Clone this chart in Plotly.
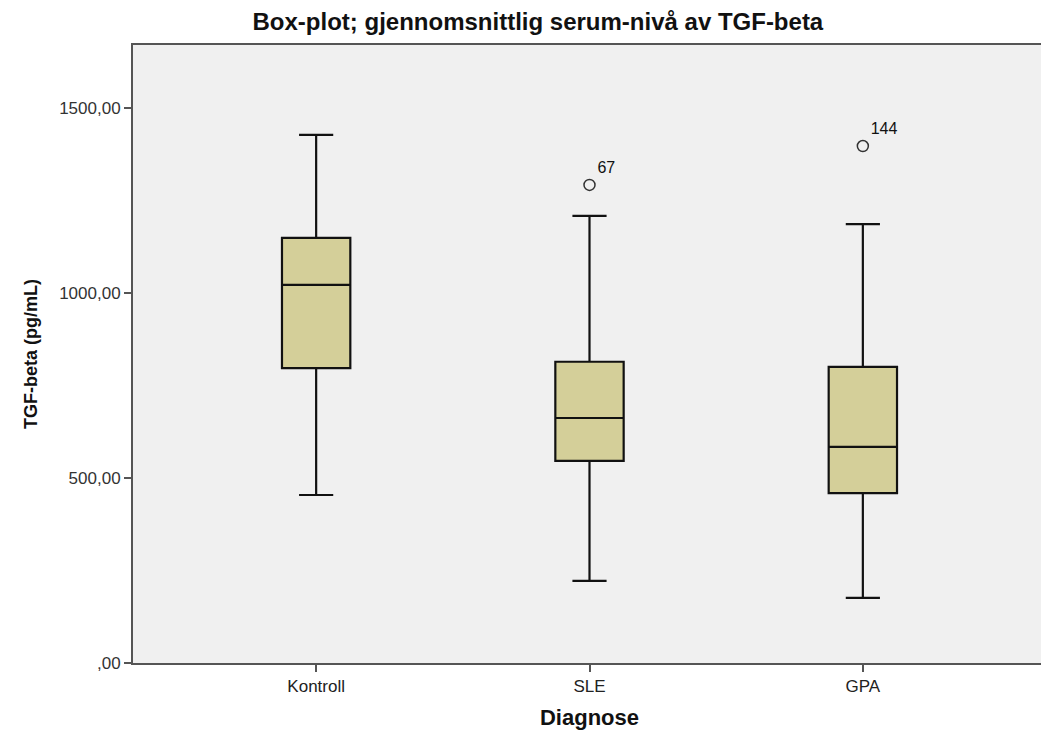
import plotly.graph_objects as go

categories = ["Kontroll", "SLE", "GPA"]
q1 = [797, 546, 459]
median = [1022, 662, 584]
q3 = [1149, 814, 800]
lower_whisker = [454, 222, 176]
upper_whisker = [1427, 1208, 1186]

outlier_cat = ["SLE", "GPA"]
outlier_val = [1292, 1397]
outlier_label = ["67", "144"]

y_tickvals = [0, 500, 1000, 1500]
y_ticktext = [",00", "500,00", "1000,00", "1500,00"]

font_family = "Liberation Sans, Arial, sans-serif"

fig = go.Figure()
fig.add_trace(go.Box(
    x=categories,
    q1=q1, median=median, q3=q3,
    lowerfence=lower_whisker, upperfence=upper_whisker,
    fillcolor="#d4cf99",
    line=dict(color="#111111", width=2.2),
    whiskerwidth=0.5,
    width=0.25,
    boxpoints=False,
    hoverinfo="skip",
    showlegend=False,
))
fig.add_trace(go.Scatter(
    x=outlier_cat, y=outlier_val,
    mode="markers+text",
    marker=dict(symbol="circle-open", size=11, color="#333333", line=dict(width=1.5)),
    text=outlier_label,
    textposition="top right",
    textfont=dict(family=font_family, size=16, color="#111111"),
    showlegend=False,
    cliponaxis=False,
))

fig.update_layout(
    width=1041, height=741,
    margin=dict(l=125, r=1, t=37, b=86),
    paper_bgcolor="white",
    plot_bgcolor="#f0f0f0",
    font=dict(family=font_family, color="#222222"),
    title=dict(
        text="<b>Box-plot; gjennomsnittlig serum-nivå av TGF-beta</b>",
        x=0.509, xanchor="center", y=0.981, yanchor="middle",
        font=dict(size=24, color="#111111"),
    ),
    xaxis=dict(
        type="category",
        range=[-0.67, 2.67],
        showline=True, linecolor="#555555", linewidth=2, mirror=True,
        ticks="outside", ticklen=7, tickwidth=2, tickcolor="#555555",
        tickfont=dict(size=17, color="#222222"),
        showgrid=False, zeroline=False,
        title=dict(text="<b>Diagnose</b>", font=dict(size=22, color="#111111"), standoff=14),
    ),
    yaxis=dict(
        range=[0, 1670],
        tickvals=y_tickvals, ticktext=y_ticktext,
        showline=True, linecolor="#555555", linewidth=2, mirror=True,
        ticks="outside", ticklen=7, tickwidth=2, tickcolor="#555555",
        tickfont=dict(size=17, color="#333333"),
        showgrid=False, zeroline=False,
        title=dict(text="<b>TGF-beta (pg/mL)</b>", font=dict(size=18, color="#111111"), standoff=17),
    ),
)

fig.write_html("out.html")
